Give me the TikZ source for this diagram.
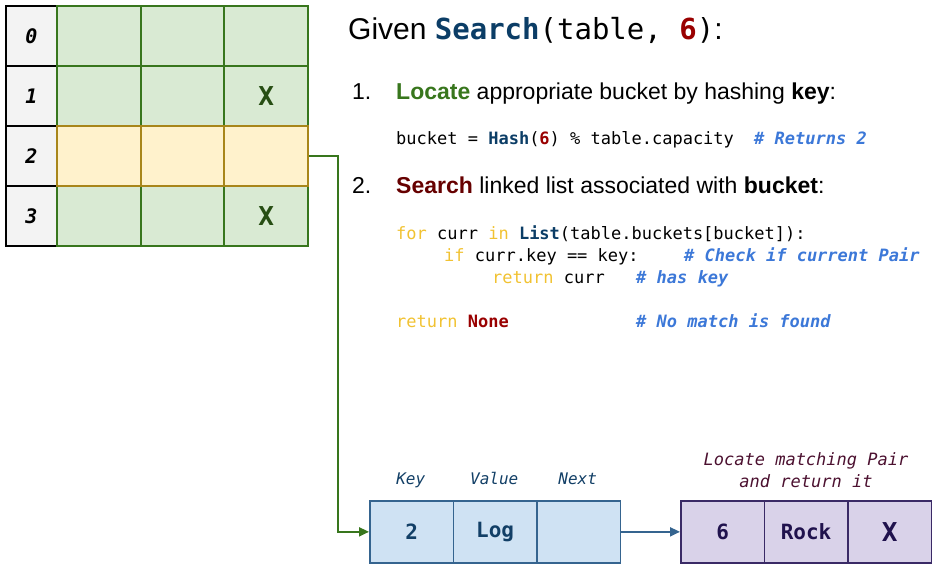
\documentclass[tikz,border=0pt]{standalone}
\usepackage{fontspec}
\setmainfont{Liberation Sans}
\setmonofont{DejaVu Sans Mono}
\usetikzlibrary{arrows.meta}
\definecolor{gfill}{HTML}{D9EAD3}
\definecolor{gdraw}{HTML}{38761D}
\definecolor{gtext}{HTML}{274E13}
\definecolor{yfill}{HTML}{FFF2CC}
\definecolor{ydraw}{HTML}{A8861A}
\definecolor{ifill}{HTML}{F3F3F3}
\definecolor{bfill}{HTML}{CFE2F3}
\definecolor{bdraw}{HTML}{35648F}
\definecolor{btext}{HTML}{123F66}
\definecolor{pfill}{HTML}{D9D2E9}
\definecolor{pdraw}{HTML}{3A2A66}
\definecolor{ptext}{HTML}{20124D}
\definecolor{plabel}{HTML}{4C1130}
\definecolor{kwc}{HTML}{F1C232}
\definecolor{fnc}{HTML}{0B3D66}
\definecolor{rdc}{HTML}{990000}
\definecolor{cmc}{HTML}{3C78D8}
\definecolor{locc}{HTML}{38761D}
\definecolor{srchc}{HTML}{660000}
\newcommand{\codekw}[1]{\textcolor{kwc}{#1}}
\newcommand{\codefn}[1]{\textcolor{fnc}{\bfseries #1}}
\newcommand{\coderd}[1]{\textcolor{rdc}{\bfseries #1}}
\newcommand{\codecm}[1]{\textcolor{cmc}{\bfseries\itshape #1}}
\begin{document}
\begin{tikzpicture}[x=1pt,y=1pt,
  idx/.style={draw=black,line width=2pt,fill=ifill,minimum width=51pt,minimum height=60pt,inner sep=0pt,anchor=north west,
    font=\ttfamily\bfseries\itshape\fontsize{20}{22}\selectfont},
  gcell/.style={draw=gdraw,line width=1.8pt,fill=gfill,minimum width=83.7pt,minimum height=60pt,inner sep=0pt,anchor=north west,
    text=gtext,font=\ttfamily\bfseries\fontsize{26}{28}\selectfont},
  ycell/.style={gcell,draw=ydraw,fill=yfill},
  bcell/.style={draw=bdraw,line width=1.7pt,fill=bfill,minimum width=83.5pt,minimum height=62pt,inner sep=0pt,anchor=north west,
    text=btext,font=\ttfamily\bfseries\fontsize{21}{23}\selectfont},
  pcell/.style={bcell,draw=pdraw,fill=pfill,text=ptext},
  blabel/.style={text=btext,font=\ttfamily\itshape\fontsize{16}{18}\selectfont,anchor=base},
  codeline/.style={anchor=base west,inner sep=0pt,font=\ttfamily\fontsize{17}{20}\selectfont},
  stepline/.style={anchor=base west,inner sep=0pt,font=\fontsize{23}{26}\selectfont},
  gline/.style={draw=gdraw,line width=2pt},
  bline/.style={draw=bdraw,line width=2pt}
]
\useasboundingbox (0,0) rectangle (946,-580);
% hash table
\foreach \r/\lab in {0/0,1/1,2/2,3/3}{
  \node[idx] (i\r) at (5,-5-60*\r) {\lab};
}
\node[gcell] (c00) at (56,-5) {};
\node[gcell] (c01) at (139.7,-5) {};
\node[gcell] (c02) at (223.4,-5) {};
\node[gcell] (c10) at (56,-65) {};
\node[gcell] (c11) at (139.7,-65) {};
\node[gcell] (c12) at (223.4,-65) {X};
\node[gcell] (c30) at (56,-185) {};
\node[gcell] (c31) at (139.7,-185) {};
\node[gcell] (c32) at (223.4,-185) {X};
\node[ycell] (c20) at (56,-125) {};
\node[ycell] (c21) at (139.7,-125) {};
\node[ycell] (c22) at (223.4,-125) {};
% title and steps
\node[anchor=base west,inner sep=0pt,font=\fontsize{30}{34}\selectfont] (title) at (348,-40)
  {Given {\ttfamily\fontsize{29}{34}\selectfont\codefn{Search}(table, \coderd{6})}:};
\node[stepline] (n1) at (352,-100) {1.};
\node[stepline] (s1) at (396,-100) {\textcolor{locc}{\bfseries Locate} appropriate bucket by hashing \textbf{key}:};
\node[codeline] (l1) at (396,-145) {bucket = \codefn{Hash}(\coderd{6}) \% table.capacity};
\node[codeline] (l1c) at (754,-145) {\codecm{\# Returns 2}};
\node[stepline] (n2) at (352,-194) {2.};
\node[stepline] (s2) at (396,-194) {\textcolor{srchc}{\bfseries Search} linked list associated with \textbf{bucket}:};
\node[codeline] (k1) at (396,-240) {\codekw{for} curr \codekw{in} \codefn{List}(table.buckets[bucket]):};
\node[codeline] (k2) at (444,-262) {\codekw{if} curr.key == key:};
\node[codeline] (k2c) at (684,-262) {\codecm{\# Check if current Pair}};
\node[codeline] (k3) at (492,-284) {\codekw{return} curr};
\node[codeline] (k3c) at (636,-284) {\codecm{\# has key}};
\node[codeline] (k4) at (396,-328) {\codekw{return} \coderd{None}};
\node[codeline] (k4c) at (636,-328) {\codecm{\# No match is found}};
% linked list
\node[bcell] (b1) at (369,-500) {2};
\node[bcell] (b2) at (452.5,-500) {Log};
\node[bcell] (b3) at (536,-500) {};
\node[pcell] (p1) at (680,-500) {6};
\node[pcell] (p2) at (763.5,-500) {Rock};
\node[pcell] (p3) at (847,-500) {\fontsize{26}{28}\selectfont X};
\node[blabel] (lk) at (410.7,-484) {Key};
\node[blabel] (lv) at (494.2,-484) {Value};
\node[blabel] (ln) at (577.7,-484) {Next};
\node[text=plabel,font=\ttfamily\itshape\fontsize{17}{22}\selectfont,align=center,anchor=north,inner sep=0pt] (pl) at (806,-452)
  {Locate matching Pair\\and return it};
% connectors
\draw[gline,-{Triangle[length=10pt,width=9pt]}] (c22.east) -- ++(29,0) |- (b1.west);
\draw[bline,-{Triangle[length=10pt,width=9pt]}] (b3.east) -- (p1.west);
\end{tikzpicture}
\end{document}
